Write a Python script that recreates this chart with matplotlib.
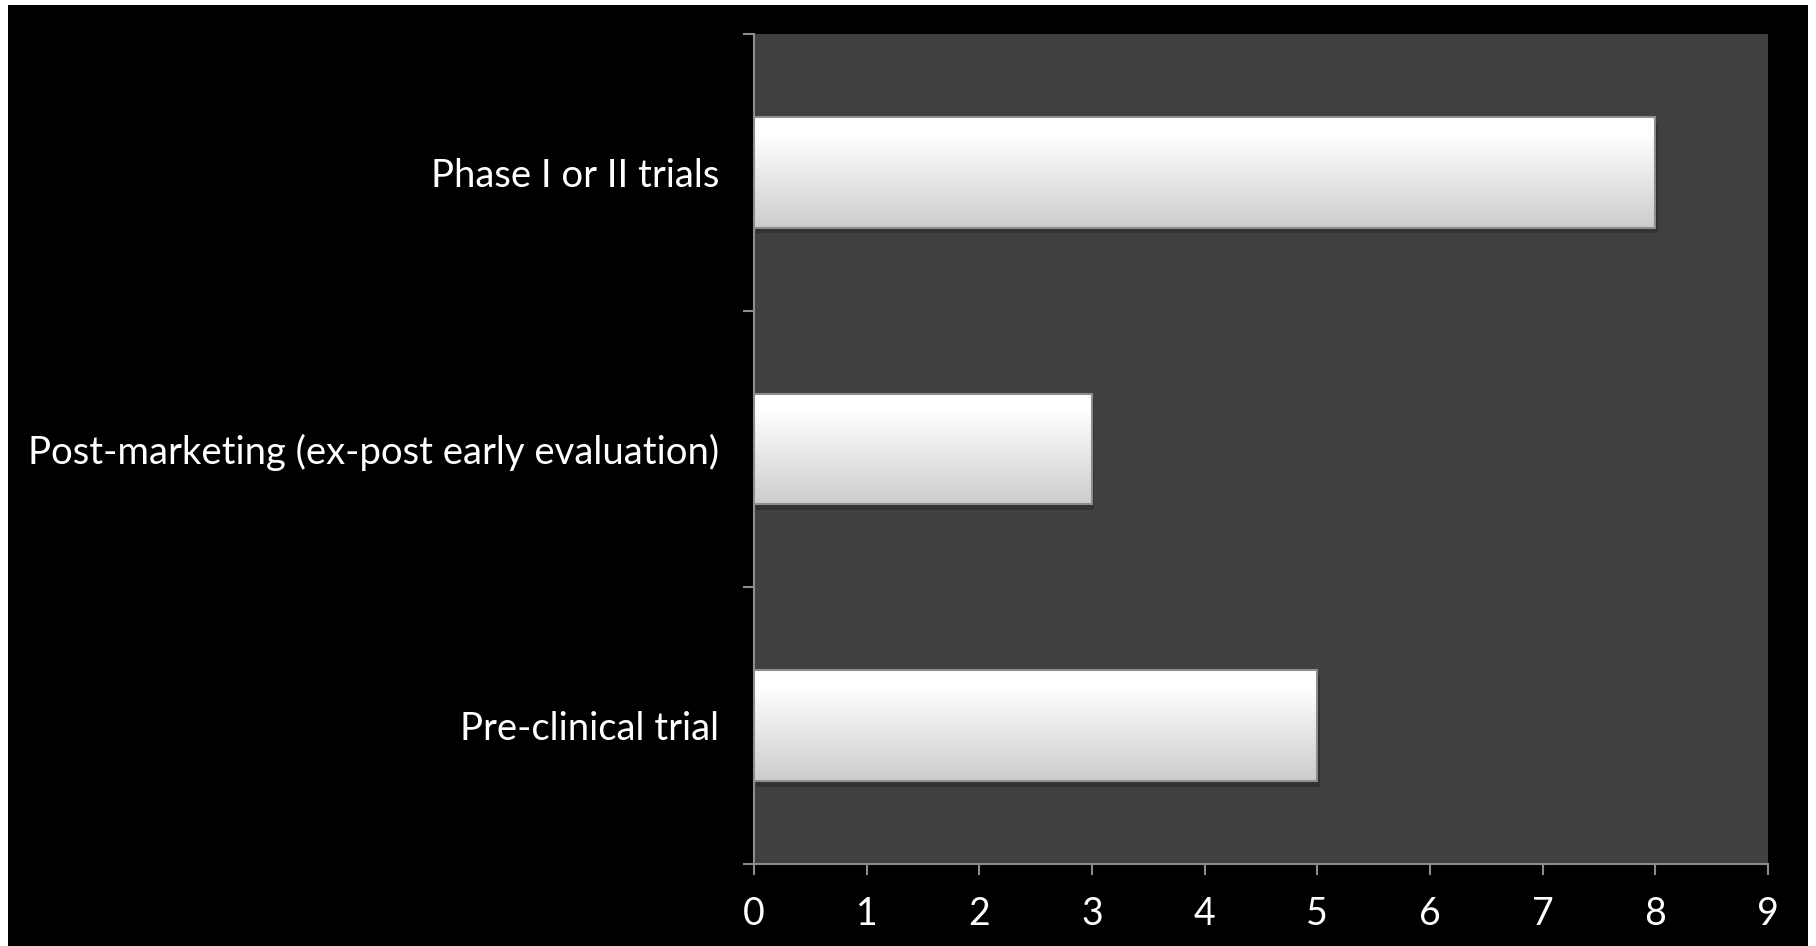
import matplotlib.pyplot as plt
import matplotlib.patches as patches
import numpy as np

# chart data
categories = ['Pre-clinical trial', 'Post-marketing (ex-post early evaluation)', 'Phase I or II trials']
values = [5, 3, 8]
x_ticks = list(range(0, 10))

plt.rcParams['font.family'] = ['Lato', 'DejaVu Sans']

fig = plt.figure(figsize=(18.16, 9.46), dpi=100, facecolor='white')

# black slide background with thin white margin
bg = patches.Rectangle((8 / 1816, 0), 1800 / 1816, 941 / 946, transform=fig.transFigure,
                       facecolor='black', edgecolor='none', zorder=-10)
fig.patches.append(bg)

ax = fig.add_axes([754 / 1816, 82 / 946, 1014 / 1816, 830 / 946])
ax.set_facecolor('#404040')

bar_h = 0.4
bars = ax.barh(range(len(categories)), values, height=bar_h, color='#e8e8e8',
               edgecolor='#8a8a8a', linewidth=1.2, zorder=3)

# vertical gradient (white on top, light gray at bottom) clipped to each bar
shade = np.concatenate([np.full(40, 1.0), np.linspace(1.0, 0.80, 216)])
grad = np.dstack([shade, shade, shade]).reshape(-1, 1, 3)
for b in bars:
    x0, y0 = b.get_x(), b.get_y()
    w, h = b.get_width(), b.get_height()
    # soft shadow
    ax.add_patch(patches.Rectangle((x0 + 0.02, y0 - 0.02), w, h, facecolor='#2a2a2a',
                                   edgecolor='none', alpha=0.6, zorder=2))
    im = ax.imshow(grad, extent=(x0, x0 + w, y0, y0 + h), aspect='auto', origin='upper',
                   zorder=4, interpolation='bilinear')
    im.set_clip_path(b)
    # bevel edges
    ax.add_patch(patches.Rectangle((x0, y0), w, h, facecolor='none', edgecolor='#8e8e8e',
                                   linewidth=1.5, zorder=5))

ax.set_xlim(0, 9)
ax.set_ylim(-0.5, len(categories) - 0.5)

ax.set_xticks(x_ticks)
ax.set_xticklabels([str(t) for t in x_ticks])
ax.set_yticks(np.arange(-0.5, len(categories), 1.0))
ax.set_yticklabels([])
ax.set_yticks(range(len(categories)), minor=True)
ax.set_yticklabels(categories, minor=True)

ax.tick_params(axis='x', colors='#8c8c8c', length=8, width=1.5, direction='out',
               labelcolor='white', labelsize=27, pad=15)
ax.tick_params(axis='y', which='major', colors='#8c8c8c', length=8, width=1.5, direction='out')
ax.tick_params(axis='y', which='minor', length=0, labelcolor='white', labelsize=27.5, pad=25)

for side in ['top', 'right']:
    ax.spines[side].set_visible(False)
for side in ['left', 'bottom']:
    ax.spines[side].set_color('#8c8c8c')
    ax.spines[side].set_linewidth(1.5)

fig.savefig('out.png', dpi=100, facecolor=fig.get_facecolor())
